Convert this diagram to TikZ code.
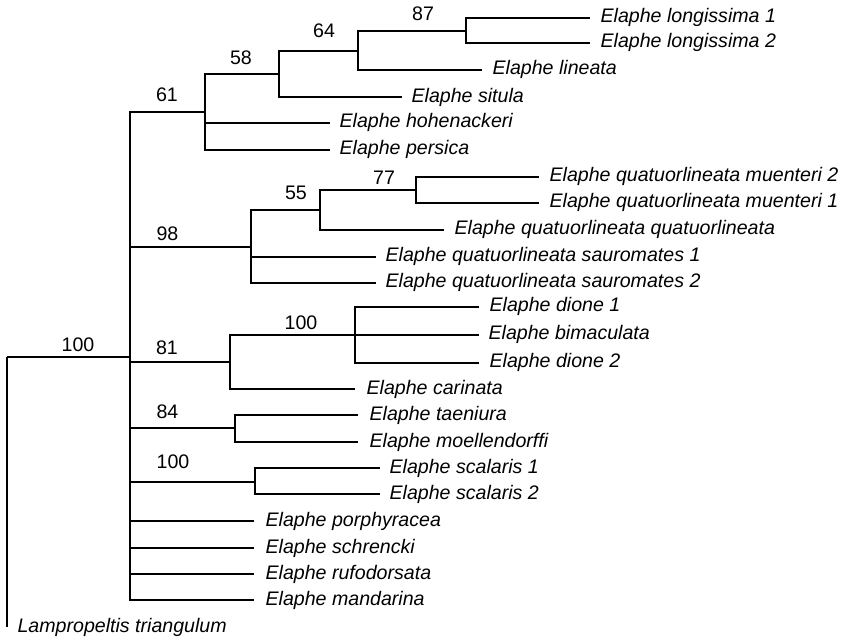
\documentclass[tikz,border=0pt]{standalone}
\usepackage{fontspec}
\setmainfont{Liberation Sans}
\begin{document}
\begin{tikzpicture}[x=1pt,y=-1pt,line width=1.2pt,
  leaf/.style={anchor=base west,inner sep=0pt,font=\fontsize{19.6}{22}\selectfont\itshape},
  bs/.style={anchor=base,inner sep=0pt,font=\fontsize{19.6}{22}\selectfont},
  br/.style={draw=black,line width=1.2pt}]
\useasboundingbox (0,0) rectangle (844,639);
% internal nodes
\coordinate (root) at (7,357);
\coordinate (nC) at (130,357);
\coordinate (n61) at (205,112);
\coordinate (n58) at (279,74);
\coordinate (n64) at (358,51);
\coordinate (n87) at (466,31);
\coordinate (n98) at (251,247);
\coordinate (n55) at (320,210);
\coordinate (n77) at (416,190);
\coordinate (n81) at (230,362);
\coordinate (n100d) at (355,335);
\coordinate (n84) at (235,428);
\coordinate (n100s) at (255,482);
% leaf tips
\coordinate (l1) at (590,18);
\coordinate (l2) at (590,43);
\coordinate (l3) at (482,70);
\coordinate (l4) at (402,97);
\coordinate (l5) at (330,123);
\coordinate (l6) at (330,150);
\coordinate (l7) at (539,177);
\coordinate (l8) at (539,203);
\coordinate (l9) at (444,230);
\coordinate (l10) at (376,257);
\coordinate (l11) at (376,283);
\coordinate (l12) at (479,307);
\coordinate (l13) at (479,335);
\coordinate (l14) at (479,363);
\coordinate (l15) at (355,389);
\coordinate (l16) at (358,415);
\coordinate (l17) at (358,442);
\coordinate (l18) at (380,468);
\coordinate (l19) at (380,494);
\coordinate (l20) at (254,521);
\coordinate (l21) at (254,548);
\coordinate (l22) at (254,574);
\coordinate (l23) at (254,600);
\coordinate (l24) at (7,627);
% leaf names
\node[leaf] (t1) at (600,23) {Elaphe longissima 1};
\node[leaf] (t2) at (600,48) {Elaphe longissima 2};
\node[leaf] (t3) at (492,75) {Elaphe lineata};
\node[leaf] (t4) at (411,102.5) {Elaphe situla};
\node[leaf] (t5) at (339,128) {Elaphe hohenackeri};
\node[leaf] (t6) at (339,155) {Elaphe persica};
\node[leaf] (t7) at (549,182) {Elaphe quatuorlineata muenteri 2};
\node[leaf] (t8) at (549,208) {Elaphe quatuorlineata muenteri 1};
\node[leaf] (t9) at (454,235) {Elaphe quatuorlineata quatuorlineata};
\node[leaf] (t10) at (385,262) {Elaphe quatuorlineata sauromates 1};
\node[leaf] (t11) at (385,288) {Elaphe quatuorlineata sauromates 2};
\node[leaf] (t12) at (489,312) {Elaphe dione 1};
\node[leaf] (t13) at (488,340) {Elaphe bimaculata};
\node[leaf] (t14) at (489,367.5) {Elaphe dione 2};
\node[leaf] (t15) at (366,394) {Elaphe carinata};
\node[leaf] (t16) at (369,420) {Elaphe taeniura};
\node[leaf] (t17) at (369,447) {Elaphe moellendorffi};
\node[leaf] (t18) at (389,473) {Elaphe scalaris 1};
\node[leaf] (t19) at (389,499) {Elaphe scalaris 2};
\node[leaf] (t20) at (265,526) {Elaphe porphyracea};
\node[leaf] (t21) at (265,553) {Elaphe schrencki};
\node[leaf] (t22) at (265,579) {Elaphe rufodorsata};
\node[leaf] (t23) at (265,605) {Elaphe mandarina};
\node[leaf] (t24) at (17,632) {Lampropeltis triangulum};
% support values
\node[bs] (b100r) at (78,351.5) {100};
\node[bs] (b61) at (167,101.5) {61};
\node[bs] (b58) at (241,65) {58};
\node[bs] (b64) at (324,37.5) {64};
\node[bs] (b87) at (423,20.5) {87};
\node[bs] (b77) at (384,185) {77};
\node[bs] (b55) at (296,200) {55};
\node[bs] (b98) at (167.5,240.5) {98};
\node[bs] (b100d) at (301,329.5) {100};
\node[bs] (b81) at (167,354) {81};
\node[bs] (b84) at (167.5,418) {84};
\node[bs] (b100s) at (173,468) {100};
% branches
\draw[br] (root) -- (nC);
\draw[br] (root) -- (l24);
\foreach \c in {n61,n98,n81,n84,n100s,l20,l21,l22,l23} \draw[br] (nC) |- (\c);
\foreach \c in {n58,l5,l6} \draw[br] (n61) |- (\c);
\foreach \c in {n64,l4} \draw[br] (n58) |- (\c);
\foreach \c in {n87,l3} \draw[br] (n64) |- (\c);
\foreach \c in {l1,l2} \draw[br] (n87) |- (\c);
\foreach \c in {n55,l10,l11} \draw[br] (n98) |- (\c);
\foreach \c in {n77,l9} \draw[br] (n55) |- (\c);
\foreach \c in {l7,l8} \draw[br] (n77) |- (\c);
\foreach \c in {n100d,l15} \draw[br] (n81) |- (\c);
\foreach \c in {l12,l13,l14} \draw[br] (n100d) |- (\c);
\foreach \c in {l16,l17} \draw[br] (n84) |- (\c);
\foreach \c in {l18,l19} \draw[br] (n100s) |- (\c);
\end{tikzpicture}
\end{document}
